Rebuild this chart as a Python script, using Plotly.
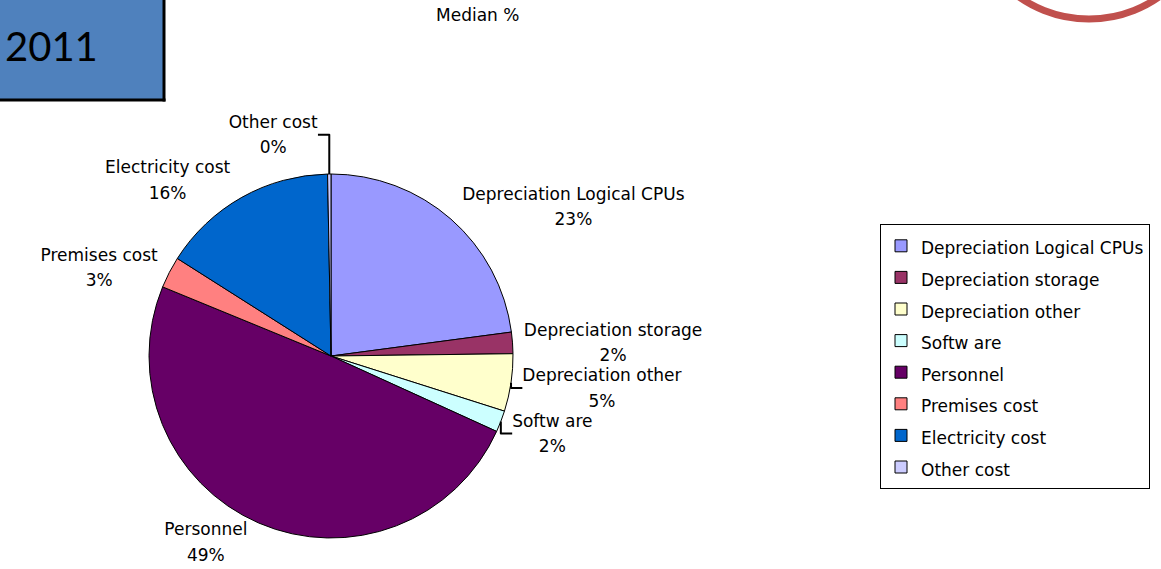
import plotly.graph_objects as go

W, H = 1161, 569

categories = ["Depreciation Logical CPUs", "Depreciation storage", "Depreciation other",
              "Softw are", "Personnel", "Premises cost", "Electricity cost", "Other cost"]
values = [22.9, 1.9, 5.1, 1.9, 49.4, 2.8, 15.7, 0.3]
colors = ["#9999FF", "#993366", "#FFFFCC", "#CCFFFF", "#660066", "#FF8080", "#0066CC", "#CCCCFF"]

FONT = "DejaVu Sans, Verdana, sans-serif"
TXT = 17


def px(x):
    return x / W


def py(y):
    return 1 - y / H


def sized(s):
    return f"<span style='font-size:{TXT}px'>{s}</span>"


cx, cy, r = 331, 356, 182

fig = go.Figure(go.Pie(
    labels=[sized(c) for c in categories],
    values=values,
    text=categories,
    sort=False,
    direction="clockwise",
    rotation=0,
    marker=dict(colors=colors, line=dict(color="black", width=1)),
    texttemplate=sized("%{text}") + "<br>" + sized("%{percent:.0%}"),
    textposition="outside",
    textfont=dict(family=FONT, size=19.5, color="black"),
    domain=dict(x=[px(cx - r), px(cx + r)], y=[py(cy + r), py(cy - r)]),
    hovertemplate="%{text}: %{percent}<extra></extra>",
))

fig.update_layout(
    width=W, height=H,
    margin=dict(l=0, r=0, t=0, b=0),
    paper_bgcolor="white",
    plot_bgcolor="white",
    showlegend=True,
    legend=dict(
        x=px(880), y=py(224), xanchor="left", yanchor="top",
        bordercolor="black", borderwidth=1,
        font=dict(family=FONT, size=22, color="black"),
        bgcolor="white",
    ),
    shapes=[
        dict(type="rect", xref="paper", yref="paper",
             x0=px(0), x1=px(164), y0=py(100), y1=py(0),
             fillcolor="#4F81BD", line=dict(width=0), layer="above"),
        dict(type="line", xref="paper", yref="paper",
             x0=px(164), x1=px(164), y0=py(101.5), y1=py(0),
             line=dict(color="black", width=3), layer="above"),
        dict(type="line", xref="paper", yref="paper",
             x0=px(0), x1=px(165.5), y0=py(100), y1=py(100),
             line=dict(color="black", width=3), layer="above"),
        dict(type="circle", xref="paper", yref="paper",
             x0=px(1089 - 122), x1=px(1089 + 122), y0=py(19), y1=py(19 - 244),
             line=dict(color="#C0504D", width=7), layer="above"),
    ],
    annotations=[
        dict(text="2011", xref="paper", yref="paper", x=px(3), y=py(46),
             xanchor="left", yanchor="middle", showarrow=False,
             font=dict(family="Lato, Carlito, sans-serif", size=40, color="black")),
        dict(text="Median %", xref="paper", yref="paper", x=px(477), y=py(15),
             xanchor="center", yanchor="middle", showarrow=False,
             font=dict(family=FONT, size=TXT, color="black")),
    ],
)

fig.write_html("out.html", config={"displayModeBar": False},
               post_script="document.body.style.margin='0px';")
